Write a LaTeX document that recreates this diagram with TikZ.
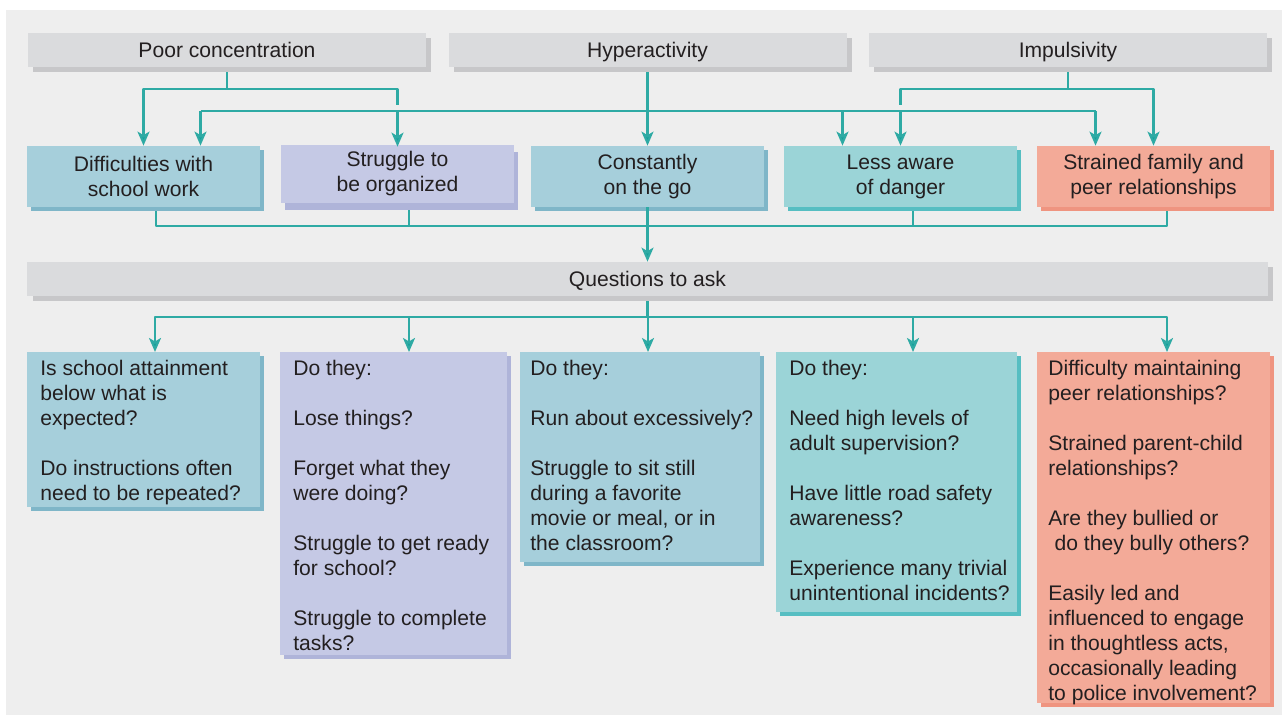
\documentclass[tikz,border=0pt]{standalone}
\usepackage{fontspec}
\setmainfont{Liberation Sans}
\usepackage{tikz}
\usetikzlibrary{arrows.meta,calc,positioning,shadows}
\definecolor{bgc}{HTML}{EEEEEE}
\definecolor{txt}{HTML}{231F20}
\definecolor{lnk}{HTML}{2EAAA4}
\definecolor{tipc}{HTML}{159F99}
\definecolor{hdrc}{HTML}{DADBDD}
\definecolor{hdrsh}{HTML}{C7C7C9}
\definecolor{bluec}{HTML}{A6CFDB}
\definecolor{bluesh}{HTML}{7FB6C8}
\definecolor{lavc}{HTML}{C5C9E5}
\definecolor{lavsh}{HTML}{AFB4D9}
\definecolor{aquac}{HTML}{9BD4D7}
\definecolor{aquash}{HTML}{56BEC2}
\definecolor{salc}{HTML}{F3AA98}
\definecolor{salsh}{HTML}{EF9480}
\newcommand{\qgap}{\\[14.2pt]}

\begin{document}
\begin{tikzpicture}[line join=round,
  font=\fontsize{12}{14.2}\selectfont,text=txt,
  link/.style={color=lnk,line width=1.2pt},
  arr/.style={link,-{Stealth[length=0.28cm,width=0.24cm,inset=0.07cm,fill=tipc]}},
  hdr/.style={fill=hdrc,minimum width=7.96cm,minimum height=0.68cm,inner sep=0pt,
    text height=9.5pt,text depth=1.5pt,
    drop shadow={fill=hdrsh,opacity=1,shadow xshift=0.1cm,shadow yshift=-0.1cm}},
  bluebox/.style={fill=bluec,drop shadow={fill=bluesh,opacity=1,shadow xshift=0.08cm,shadow yshift=-0.08cm}},
  lavbox/.style={fill=lavc,drop shadow={fill=lavsh,opacity=1,shadow xshift=0.08cm,shadow yshift=-0.08cm}},
  aquabox/.style={fill=aquac,drop shadow={fill=aquash,opacity=1,shadow xshift=0.08cm,shadow yshift=-0.08cm}},
  salbox/.style={fill=salc,drop shadow={fill=salsh,opacity=1,shadow xshift=0.08cm,shadow yshift=-0.08cm}},
  mid/.style={minimum width=4.66cm,minimum height=1.22cm,align=center,inner sep=0pt},
  qbox/.style={anchor=north west,inner sep=0pt},
  qtxt/.style={anchor=north west,align=left,inner sep=0pt}]
\useasboundingbox (0,0) rectangle (25.64,-14.3);
\fill[bgc] (0.12,-0.2) rectangle (25.64,-14.3);
% top row
\node[hdr] (pc) at (4.54,-1.0) {Poor concentration};
\node[hdr] (hy) at (12.95,-1.0) {Hyperactivity};
\node[hdr] (im) at (21.36,-1.0) {Impulsivity};
% problems
\node[mid,bluebox] (dsw) at (2.87,-3.53) {Difficulties with\\school work};
\node[mid,minimum height=1.16cm,fill=lavc,drop shadow={fill=lavsh,opacity=1,shadow xshift=0.08cm,shadow yshift=-0.14cm}] (sbo) at (7.95,-3.48) {Struggle to\\be organized};
\node[mid,bluebox] (cog) at (12.95,-3.53) {Constantly\\on the go};
\node[mid,aquabox] (lad) at (18.01,-3.53) {Less aware\\of danger};
\node[mid,salbox] (sfp) at (23.07,-3.53) {Strained family and\\peer relationships};
\node[hdr,minimum width=24.8cm] (qa) at (12.95,-5.58) {Questions to ask};
% question boxes
\node[qbox,bluebox,minimum width=4.66cm,minimum height=3.10cm] (q1) at (0.54,-7.04) {};
\node[qbox,lavbox,minimum width=4.54cm,minimum height=6.06cm] (q2) at (5.60,-7.04) {};
\node[qbox,bluebox,minimum width=4.80cm,minimum height=4.20cm] (q3) at (10.40,-7.04) {};
\node[qbox,aquabox,minimum width=4.82cm,minimum height=5.20cm] (q4) at (15.52,-7.04) {};
\node[qbox,salbox,minimum width=4.66cm,minimum height=7.02cm] (q5) at (20.74,-7.04) {};
\node[qtxt] (q1txt) at ([xshift=0.26cm,yshift=-0.16cm]q1.north west) {Is school attainment\\below what is\\expected?\qgap Do instructions often\\need to be repeated?};
\node[qtxt] (q2txt) at ([xshift=0.26cm,yshift=-0.16cm]q2.north west) {Do they:\qgap Lose things?\qgap Forget what they\\were doing?\qgap Struggle to get ready\\for school?\qgap Struggle to complete\\tasks?};
\node[qtxt] (q3txt) at ([xshift=0.2cm,yshift=-0.16cm]q3.north west) {Do they:\qgap Run about excessively?\qgap Struggle to sit still\\during a favorite\\movie or meal, or in\\the classroom?};
\node[qtxt] (q4txt) at ([xshift=0.26cm,yshift=-0.16cm]q4.north west) {Do they:\qgap Need high levels of\\adult supervision?\qgap Have little road safety\\awareness?\qgap Experience many trivial\\unintentional incidents?};
\node[qtxt] (q5txt) at ([xshift=0.22cm,yshift=-0.16cm]q5.north west) {Difficulty maintaining\\peer relationships?\qgap Strained parent-child\\relationships?\qgap Are they bullied or\\\hspace{0.3em}do they bully others?\qgap Easily led and\\influenced to engage\\in thoughtless acts,\\occasionally leading\\to police involvement?};
% connectors from the top row
\draw[arr] ([yshift=-0.1cm]pc.south) -- ++(0,-0.34) -| (dsw.north);
\draw[arr] ([yshift=-0.1cm]pc.south) -- ++(0,-0.34) -| ([yshift=-0.04cm]sbo.north);
\draw[arr] ([yshift=-0.1cm]im.south) -- ++(0,-0.34) -| (lad.north);
\draw[arr] ([yshift=-0.1cm]im.south) -- ++(0,-0.34) -| (sfp.north);
\coordinate (hyj) at ($(hy.south)+(0,-0.88)$);
% gap above the crossing only
\draw[link,preaction={draw=bgc,line width=4.5pt,transform canvas={yshift=1.6pt}}] ([xshift=1.14cm]dsw.north |- hyj) -- ([xshift=-1.16cm]sfp.north |- hyj);
\draw[arr] ([yshift=-0.1cm]hy.south) -- (cog.north);
\foreach \n/\dx in {dsw/1.14,lad/-1.16,sfp/-1.16}
  \draw[arr] ([xshift=\dx cm]\n.north |- hyj) -- ([xshift=\dx cm]\n.north);
% merge into questions
\coordinate (mj) at ($(cog.south)+(0,-0.38)$);
\foreach \n/\dx in {dsw/0.25,lad/0.25,sfp/0.27}
  \draw[link] ([shift={(\dx cm,-0.08cm)}]\n.south) |- (mj);
\draw[link] ([shift={(0.23cm,-0.14cm)}]sbo.south) |- (mj);
\draw[arr] (cog.south) -- (qa.north);
\coordinate (qj) at ($(qa.south)+(0,-0.42)$);
\draw[link] ([yshift=-0.1cm]qa.south) -- (qj);
\foreach \n/\dx in {q1/2.56,q2/2.58,q3/2.56,q4/2.74,q5/2.6}
  \draw[arr] (qj) -| ([xshift=\dx cm]\n.north west);
\end{tikzpicture}
\end{document}
